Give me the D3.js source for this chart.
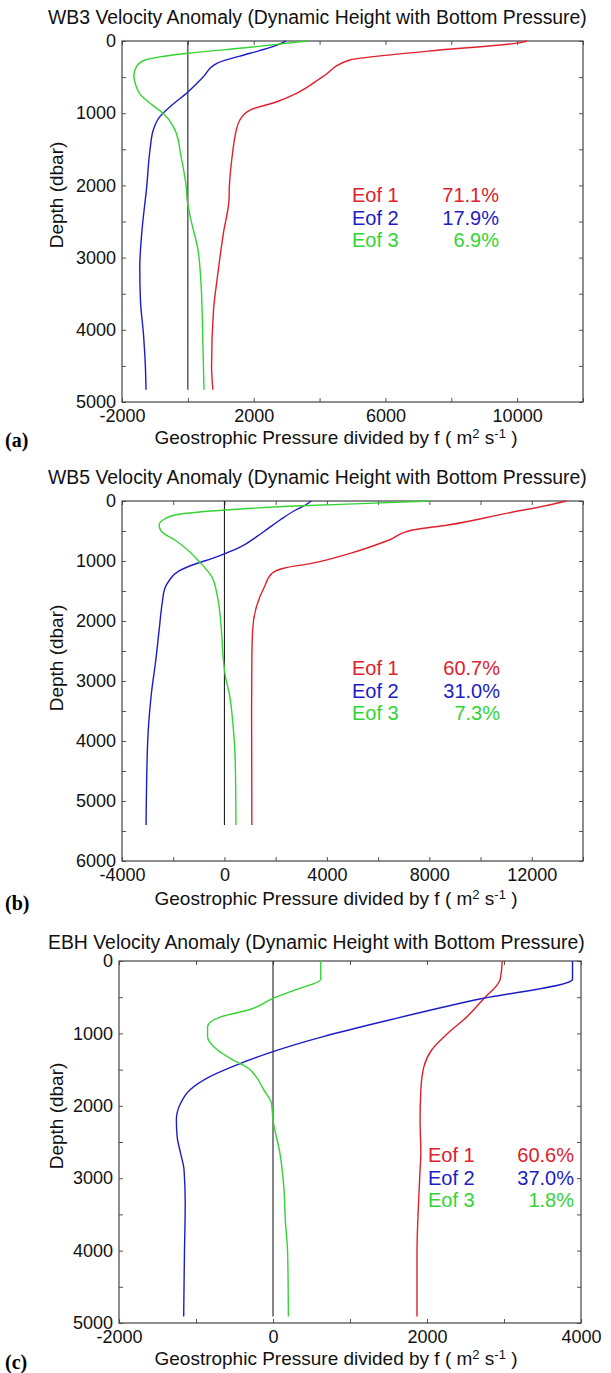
<!DOCTYPE html>
<html>
<head>
<meta charset="utf-8">
<script src="https://cdn.jsdelivr.net/npm/d3@7"></script>
<style>
body { margin: 0; background: #fff; }
svg { display: block; font-family: "Liberation Sans", Arial, sans-serif; }
</style>
</head>
<body>
<svg id="chart" width="611" height="1373"></svg>
<script>
// ---- data ----
// (a) WB3
var wb3Depth1 = [0, 30, 125, 217, 263, 494, 724, 841, 956, 1094, 1325, 1510, 2020, 2200, 2660, 3260, 3720, 4500, 4830];
var wb3Eof1 = [10300, 10000, 7650, 5640, 4920, 4100, 3300, 2700, 1890, 1580, 1430, 1370, 1260, 1250, 1080, 900, 780, 720, 760];
var wb3Depth2 = [0, 79, 170, 309, 494, 633, 702, 910, 1048, 1233, 1510, 2020, 2660, 3130, 3590, 4050, 4510, 4830];
var wb3Eof2 = [2980, 2580, 1890, 880, 470, 170, 10, -540, -850, -1050, -1150, -1250, -1400, -1460, -1440, -1350, -1290, -1270];
var wb3Depth3 = [0, 87, 170, 220, 263, 356, 480, 600, 725, 863, 1001, 1186, 1371, 1510, 2020, 2200, 2430, 2900, 3360, 4050, 4830];
var wb3Eof3 = [3620, 1890, 10, -850, -1300, -1560, -1640, -1590, -1470, -1150, -750, -440, -290, -240, -50, -20, 70, 310, 400, 450, 490];
var wb3Pct = ["71.1%", "17.9%", "6.9%"];

// (b) WB5
var wb5Depth1 = [0, 67, 206, 400, 483, 650, 872, 1040, 1120, 1205, 1430, 1760, 2150, 2650, 3500, 5400];
var wb5Eof1 = [13360, 12680, 11000, 8720, 7350, 6430, 4910, 3390, 2320, 1860, 1560, 1250, 1100, 1070, 1060, 1070];
var wb5Depth2 = [0, 67, 150, 317, 456, 594, 761, 880, 960, 1030, 1100, 1170, 1320, 1460, 1700, 2150, 2650, 3200, 4040, 5400];
var wb5Eof2 = [3390, 3160, 2780, 2170, 1710, 1260, 650, 0, -500, -1000, -1450, -1790, -2150, -2330, -2430, -2550, -2680, -2850, -3000, -3060];
var wb5Depth3 = [0, 40, 80, 150, 233, 317, 400, 480, 560, 650, 870, 1040, 1260, 1600, 2150, 2650, 2930, 3210, 3760, 4320, 5400];
var wb5Eof3 = [8030, 5600, 3000, 40, -1940, -2400, -2550, -2500, -2300, -1940, -1300, -920, -500, -270, -120, -40, 40, 190, 340, 420, 450];
var wb5Pct = ["60.7%", "31.0%", "7.3%"];

// (c) EBH
var ebhDepth1 = [0, 253, 539, 769, 999, 1229, 1459, 1781, 2195, 2656, 2886, 3346, 4037, 4911];
var ebhEof1 = [2977, 2950, 2720, 2520, 2270, 2060, 1960, 1920, 1910, 1920, 1910, 1890, 1870, 1870];
var ebhDepth2 = [0, 253, 539, 815, 1045, 1252, 1413, 1597, 1781, 1965, 2195, 2426, 2656, 2886, 3346, 4037, 4911];
var ebhEof2 = [3890, 3890, 2620, 1510, 650, 0, -420, -820, -1080, -1200, -1255, -1245, -1200, -1155, -1140, -1150, -1160];
var ebhDepth3 = [0, 253, 400, 515, 677, 769, 907, 1045, 1229, 1367, 1482, 1597, 1781, 1965, 2195, 2656, 3116, 3576, 4037, 4911];
var ebhEof3 = [620, 620, 290, 0, -320, -670, -850, -850, -720, -520, -320, -220, -120, -20, 0, 90, 140, 160, 190, 200];
var ebhPct = ["60.6%", "37.0%", "1.8%"];

// ticks
var xTicksA = [-2000, 0, 2000, 4000, 6000, 8000, 10000, 12000];
var xLabelsA = [-2000, 2000, 6000, 10000];
var xTicksB = [-4000, -2000, 0, 2000, 4000, 6000, 8000, 10000, 12000, 14000];
var xLabelsB = [-4000, 0, 4000, 8000, 12000];
var xTicksC = [-2000, -1000, 0, 1000, 2000, 3000, 4000];
var xLabelsC = [-2000, 0, 2000, 4000];
var yTicks5 = [0, 500, 1000, 1500, 2000, 2500, 3000, 3500, 4000, 4500, 5000];
var yLabels5 = [0, 1000, 2000, 3000, 4000, 5000];
var yTicks6 = [0, 500, 1000, 1500, 2000, 2500, 3000, 3500, 4000, 4500, 5000, 5500, 6000];
var yLabels6 = [0, 1000, 2000, 3000, 4000, 5000, 6000];

var eofNames = ["Eof 1", "Eof 2", "Eof 3"];
var eofColors = ["#e0202c", "#1c1cc4", "#33d433"];

// ---- layout per panel ----
var panels = [
    {title: "WB3 Velocity Anomaly (Dynamic Height with Bottom Pressure)", letter: "(a)",
     left: 122, top: 41, right: 583, bottom: 402, xDomain: [-2000, 12000], yMax: 5000,
     xTicks: xTicksA, xLabels: xLabelsA, yTicks: yTicks5, yLabels: yLabels5, zeroEnd: 4830,
     depths: [wb3Depth1, wb3Depth2, wb3Depth3], values: [wb3Eof1, wb3Eof2, wb3Eof3], pct: wb3Pct,
     titleY: 24, xLabelY: 444, letterY: 447, yLabelY: 195, legX: 352, legR: 499, legY: 195},
    {title: "WB5 Velocity Anomaly (Dynamic Height with Bottom Pressure)", letter: "(b)",
     left: 122, top: 501, right: 583, bottom: 861, xDomain: [-4000, 14000], yMax: 6000,
     xTicks: xTicksB, xLabels: xLabelsB, yTicks: yTicks6, yLabels: yLabels6, zeroEnd: 5400,
     depths: [wb5Depth1, wb5Depth2, wb5Depth3], values: [wb5Eof1, wb5Eof2, wb5Eof3], pct: wb5Pct,
     titleY: 484, xLabelY: 905, letterY: 910, yLabelY: 658, legX: 352, legR: 500, legY: 668},
    {title: "EBH Velocity Anomaly (Dynamic Height with Bottom Pressure)", letter: "(c)",
     left: 119, top: 961, right: 581, bottom: 1323, xDomain: [-2000, 4000], yMax: 5000,
     xTicks: xTicksC, xLabels: xLabelsC, yTicks: yTicks5, yLabels: yLabels5, zeroEnd: 4911,
     depths: [ebhDepth1, ebhDepth2, ebhDepth3], values: [ebhEof1, ebhEof2, ebhEof3], pct: ebhPct,
     titleY: 949, xLabelY: 1365, letterY: 1369, yLabelY: 1116, legX: 428, legR: 574, legY: 1155}
];

var svg = d3.select("#chart");

panels.forEach(function (p) {
    var x = d3.scaleLinear().domain(p.xDomain).range([p.left, p.right]);
    var y = d3.scaleLinear().domain([0, p.yMax]).range([p.top, p.bottom]);
    var g = svg.append("g");

    // Title
    g.append("text")
        .attr("x", 48).attr("y", p.titleY)
        .attr("font-size", "19.4px").attr("fill", "#111")
        .text(p.title);

    // Axes, ticks point inwards, only some ticks get a label
    function fmtX(d) { return p.xLabels.indexOf(d) >= 0 ? d : ""; }
    function fmtY(d) { return p.yLabels.indexOf(d) >= 0 ? d : ""; }

    var bottomAxis = g.append("g").attr("transform", "translate(0," + p.bottom + ")")
        .call(d3.axisBottom(x).tickValues(p.xTicks).tickSizeInner(-4).tickSizeOuter(0).tickPadding(7).tickFormat(fmtX));
    var topAxis = g.append("g").attr("transform", "translate(0," + p.top + ")")
        .call(d3.axisTop(x).tickValues(p.xTicks).tickSizeInner(-4).tickSizeOuter(0).tickFormat(""));
    var leftAxis = g.append("g").attr("transform", "translate(" + p.left + ",0)")
        .call(d3.axisLeft(y).tickValues(p.yTicks).tickSizeInner(-4).tickSizeOuter(0).tickPadding(6).tickFormat(fmtY));
    var rightAxis = g.append("g").attr("transform", "translate(" + p.right + ",0)")
        .call(d3.axisRight(y).tickValues(p.yTicks).tickSizeInner(-4).tickSizeOuter(0).tickFormat(""));

    [bottomAxis, topAxis, leftAxis, rightAxis].forEach(function (a) {
        a.select(".domain").remove();
        a.selectAll(".tick line").attr("stroke", "#555");
        a.selectAll(".tick text").attr("font-size", "18px").attr("fill", "#111")
            .attr("font-family", "Liberation Sans, Arial, sans-serif");
    });

    // Frame
    g.append("rect")
        .attr("x", p.left).attr("y", p.top)
        .attr("width", p.right - p.left).attr("height", p.bottom - p.top)
        .attr("fill", "none").attr("stroke", "#444").attr("stroke-width", 1.2);

    // Zero line
    g.append("line")
        .attr("x1", x(0)).attr("x2", x(0))
        .attr("y1", y(0)).attr("y2", y(p.zeroEnd))
        .attr("stroke", "#222").attr("stroke-width", 1.1);

    // EOF profiles
    var line = d3.line()
        .x(function (d) { return x(d[1]); })
        .y(function (d) { return y(d[0]); })
        .curve(d3.curveMonotoneY);

    p.depths.forEach(function (dep, i) {
        var pts = dep.map(function (d, k) { return [d, p.values[i][k]]; });
        g.append("path")
            .datum(pts)
            .attr("d", line)
            .attr("fill", "none")
            .attr("stroke", eofColors[i])
            .attr("stroke-width", 1.4);
    });

    // Legend text
    eofNames.forEach(function (name, i) {
        g.append("text")
            .attr("x", p.legX).attr("y", p.legY + i * 22.5)
            .attr("dy", "0.36em")
            .attr("font-size", "20px").attr("fill", eofColors[i])
            .text(name);
        g.append("text")
            .attr("x", p.legR).attr("y", p.legY + i * 22.5)
            .attr("dy", "0.36em")
            .attr("text-anchor", "end")
            .attr("font-size", "20px").attr("fill", eofColors[i])
            .text(p.pct[i]);
    });

    // Axis labels
    g.append("text")
        .attr("transform", "translate(56," + p.yLabelY + ") rotate(-90)")
        .attr("text-anchor", "middle").attr("dy", "0.36em")
        .attr("font-size", "19px").attr("fill", "#111")
        .text("Depth (dbar)");

    var xl = g.append("text")
        .attr("x", 336).attr("y", p.xLabelY)
        .attr("text-anchor", "middle")
        .attr("font-size", "19px").attr("fill", "#111");
    xl.append("tspan").text("Geostrophic Pressure divided by f ( m");
    xl.append("tspan").attr("dy", -6).attr("font-size", "13px").text("2");
    xl.append("tspan").attr("dy", 6).text(" s");
    xl.append("tspan").attr("dy", -6).attr("font-size", "13px").text("-1");
    xl.append("tspan").attr("dy", 6).text(" )");

    // Panel letter
    g.append("text")
        .attr("x", 5).attr("y", p.letterY)
        .attr("font-family", "Liberation Serif, Times New Roman, serif")
        .attr("font-weight", "bold").attr("font-size", "20px").attr("fill", "#000")
        .text(p.letter);
});
</script>
</body>
</html>
